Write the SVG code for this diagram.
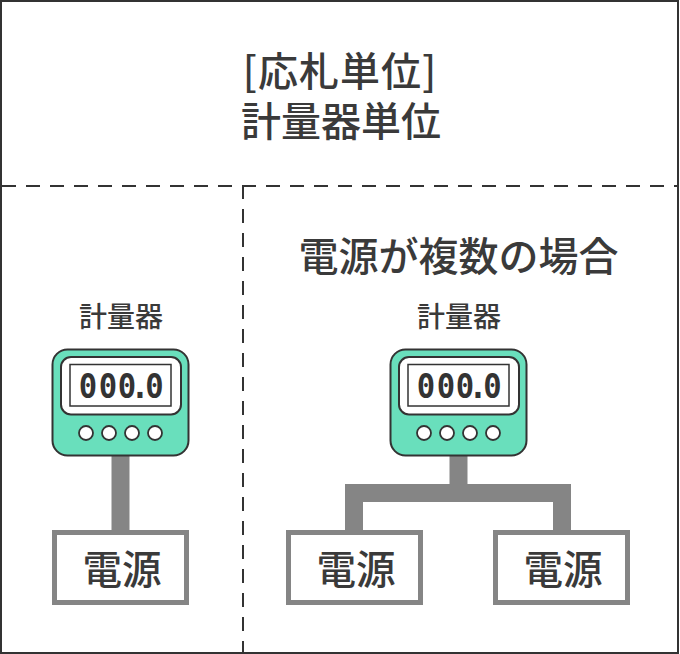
<svg xmlns="http://www.w3.org/2000/svg" width="680" height="654" viewBox="0 0 680 654">
<style>
text{font-family:"Noto Sans CJK JP","Noto Sans",sans-serif;fill:#3a3a3a;text-anchor:middle;font-weight:500}
.h{font-size:40px}.s{font-size:28px}.b{font-size:39.500px}
.dash{fill:none;stroke:#333;stroke-width:2;stroke-dasharray:14 10}
.wire{fill:none;stroke:#858585;stroke-width:18}
.box{fill:#fff;stroke:#858585;stroke-width:5}
.body{fill:#69dfbc;stroke:#333;stroke-width:2}
.screen{fill:#fff;stroke:#333;stroke-width:2}
.lcd{fill:#fff;stroke:#333;stroke-width:1.5}
.btn{fill:#fff;stroke:#333;stroke-width:1.8}
.num{font-family:"DejaVu Sans Mono","Liberation Mono",monospace;font-size:34px;font-weight:700;fill:#333;text-anchor:start}
</style>
<defs>
<g id="meter">
<rect class="body" x="52.500" y="349.500" width="136" height="106" rx="15"/>
<rect class="screen" x="61" y="357" width="120" height="57.500" rx="10"/>
<rect class="lcd" x="70" y="364.500" width="101" height="41.500"/>
<text class="num" transform="translate(88,398) scale(.9,1)" x="-10.250 12 33 47.500 63.600" y="0">000.0</text>
<circle class="btn" cx="86" cy="433" r="7"/>
<circle class="btn" cx="109" cy="433" r="7"/>
<circle class="btn" cx="132" cy="433" r="7"/>
<circle class="btn" cx="155" cy="433" r="7"/>
</g>
</defs>
<rect x="1" y="1" width="677" height="652" fill="#fff" stroke="#333" stroke-width="2"/>
<g id="connectors">
<path class="dash" d="M2 186H678"/>
<path class="dash" d="M243 185V653"/>
<path class="wire" d="M120.500 455V532"/>
<path class="wire" d="M458.500 455V493M354 532V493H562V532"/>
</g>
<g id="title"><text class="h" x="340" y="86" style="letter-spacing:1px">[応札単位]</text><text class="h" x="341" y="136">計量器単位</text></g>
<g id="subtitle"><text class="h" x="458.500" y="271">電源が複数の場合</text></g>
<g id="meter-left"><text class="s" x="121" y="327">計量器</text><use href="#meter"/></g>
<g id="meter-right"><text class="s" x="459" y="327">計量器</text><use href="#meter" x="338"/></g>
<g id="power-left"><rect class="box" x="54.500" y="532.500" width="132" height="70"/><text class="b" x="122" y="584">電源</text></g>
<g id="power-mid"><rect class="box" x="288.500" y="532.500" width="132" height="70"/><text class="b" x="356" y="584">電源</text></g>
<g id="power-right"><rect class="box" x="495.500" y="532.500" width="132" height="70"/><text class="b" x="563" y="584">電源</text></g>
</svg>
